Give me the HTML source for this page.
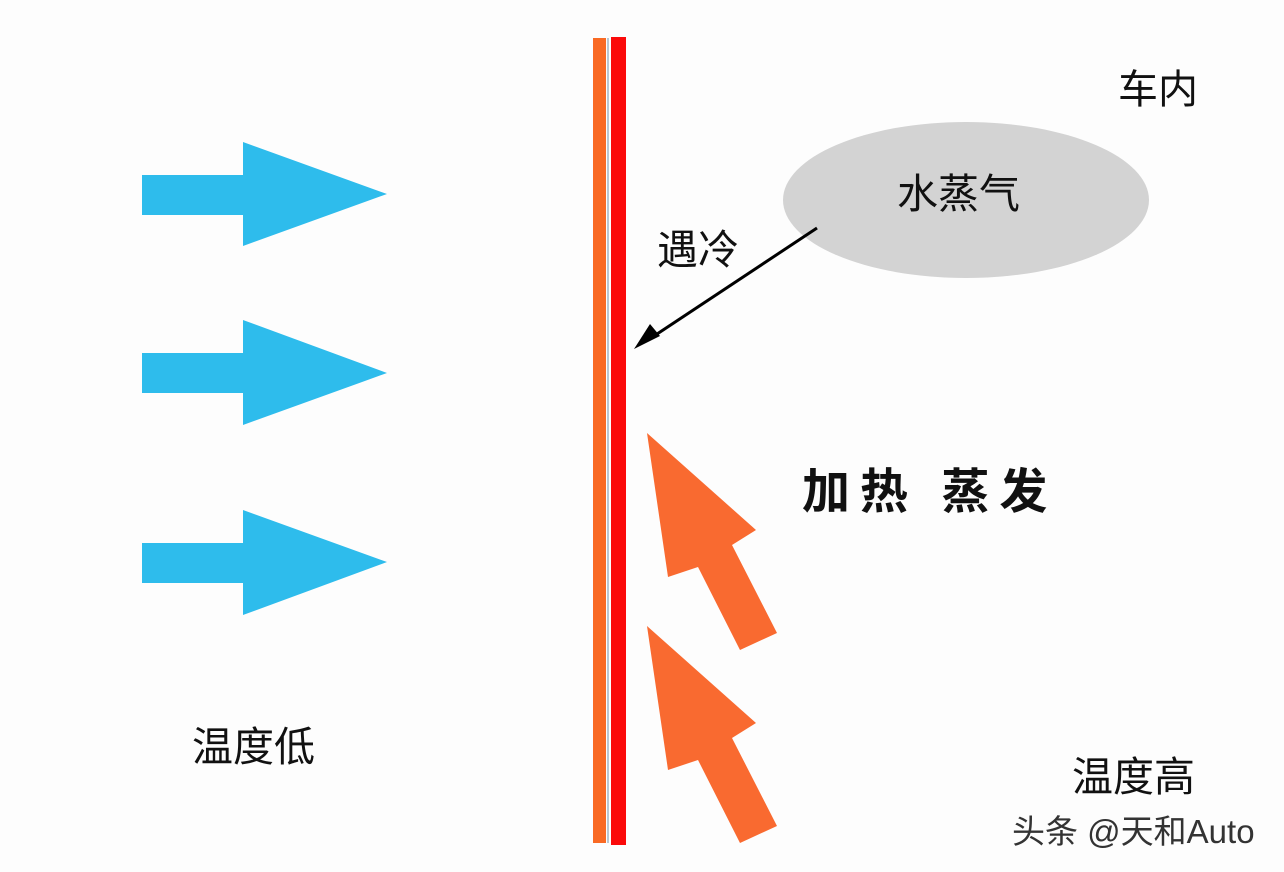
<!DOCTYPE html>
<html><head><meta charset="utf-8"><style>
body{margin:0;width:1284px;height:872px;background:#fdfdfd;overflow:hidden}
svg{display:block}
text{font-family:"Liberation Sans","Noto Sans CJK SC",sans-serif;fill:#111}
</style></head><body>
<svg width="1284" height="872" viewBox="0 0 1284 872">
<rect width="1284" height="872" fill="#fdfdfd"/>
<g fill="#2ebcec">
<polygon points="142,175 243,175 243,142 387,194 243,246 243,215 142,215"/>
<polygon points="142,353 243,353 243,320 387,373 243,425 243,393 142,393"/>
<polygon points="142,543 243,543 243,510 387,562 243,615 243,583 142,583"/>
</g>
<rect x="593" y="38" width="13" height="805" fill="#f96a24"/>
<rect x="607" y="38" width="2" height="805" fill="#b8c8d4"/>
<rect x="611" y="37" width="15" height="808" fill="#fb0a0a"/>
<ellipse cx="966" cy="200" rx="183" ry="78" fill="#d3d3d3"/>
<text x="897" y="208" font-size="41">水蒸气</text>
<line x1="817" y1="228" x2="648" y2="340" stroke="#000" stroke-width="3"/>
<polygon points="634,349 650,324 660,336" fill="#000"/>
<text x="657" y="264" font-size="41">遇冷</text>
<text x="1118" y="103" font-size="40">车内</text>
<text x="802" y="508" font-size="48" font-weight="bold" fill="#222" letter-spacing="10">加热 蒸发</text>
<g fill="#f96a30">
<polygon points="647,433 756,530 732,545 777,633 740,650 698,567 668,577"/>
<polygon points="647,626 756,723 732,738 777,826 740,843 698,760 668,770"/>
</g>
<text x="192" y="761" font-size="41">温度低</text>
<text x="1072" y="791" font-size="41">温度高</text>
<text x="1012" y="843" font-size="33" style="fill:#333">头条 @天和Auto</text>
</svg>
</body></html>
